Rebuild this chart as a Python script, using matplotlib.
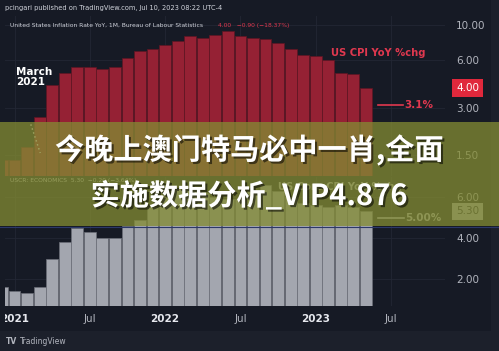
import numpy as np
import matplotlib
matplotlib.use("Agg")
import matplotlib.pyplot as plt
import matplotlib.patheffects as pe
from matplotlib.patches import Rectangle
from matplotlib.lines import Line2D
from matplotlib.transforms import blended_transform_factory

# Dec 2020 .. May 2023, monthly
months = [f"{y}-{m:02d}" for y, m in
          [(2020, 12)] + [(2021, k) for k in range(1, 13)]
          + [(2022, k) for k in range(1, 13)] + [(2023, k) for k in range(1, 6)]]
cpi_yoy = [1.4, 1.4, 1.7, 2.6, 4.2, 5.0, 5.4, 5.4, 5.3, 5.4, 6.2, 6.8, 7.0,
           7.5, 7.9, 8.5, 8.3, 8.6, 9.1, 8.5, 8.3, 8.2, 7.7, 7.1, 6.5,
           6.4, 6.0, 5.0, 4.9, 4.0]
core_yoy = [1.6, 1.4, 1.3, 1.6, 3.0, 3.8, 4.5, 4.3, 4.0, 4.0, 4.6, 4.9, 5.5,
            6.0, 6.4, 6.5, 6.2, 6.0, 5.9, 5.9, 6.3, 6.6, 6.3, 6.0, 5.7,
            5.6, 5.5, 5.6, 5.5, 5.3]
cpi_ticks = [10, 6, 3, 1.5]
core_ticks = [6, 4, 2]
x_tick_pos = [0, 6, 12, 18, 24, 30]
x_tick_labels = ["2021", "Jul", "2022", "Jul", "2023", "Jul"]
cpi_forecast = 3.1
core_target = 5.0

W, H = 499, 351
BG = "#161a25"
GRID = "#232734"
LBL = "#b2b5be"
RED = "#e0384f"

fig = plt.figure(figsize=(W / 100, H / 100), dpi=100, facecolor="#1c202b")


def box(l, t, r, b):
    return [l / W, 1 - b / H, (r - l) / W, (b - t) / H]


fig.patches.append(Rectangle((0, 1 - 331 / H), 491 / W, 331 / H, transform=fig.transFigure,
                             facecolor=BG, edgecolor="none", zorder=-5))

pos = np.arange(len(months)) - 1  # 0 = Jan 2021

ax1 = fig.add_axes(box(5, 16, 445, 176))
ax2 = fig.add_axes(box(5, 177, 445, 306), sharex=ax1)
for ax in (ax1, ax2):
    ax.set_facecolor(BG)
    for s in ax.spines.values():
        s.set_visible(False)
    ax.yaxis.tick_right()
    ax.tick_params(axis="y", length=0, pad=8, labelsize=7.5, labelcolor=LBL)
    ax.grid(True, color=GRID, lw=0.6)
    ax.set_axisbelow(True)

ax1.bar(pos, cpi_yoy, width=0.94, color="#952134", edgecolor="#5e1522", lw=0.5)
ax1.set_yscale("log")
ax1.set_ylim(1.108, 11.4)
ax1.set_yticks(cpi_ticks)
ax1.set_yticklabels([f"{v:.2f}" for v in cpi_ticks])
ax1.yaxis.set_minor_locator(matplotlib.ticker.NullLocator())
for t in ax1.get_yticklabels():
    t.set_ha("left")
ax1.tick_params(axis="x", length=0, labelbottom=False)

ax2.bar(pos, core_yoy, width=0.94, color="#a3a6af", edgecolor="#6b6e78", lw=0.5)
ax2.set_ylim(0.683, 6.976)
ax2.set_yticks(core_ticks)
ax2.set_yticklabels([f"{v:.2f}" for v in core_ticks])
ax2.set_xlim(-0.757, 34.3)
ax2.set_xticks(x_tick_pos)
ax2.set_xticklabels(x_tick_labels)
ax2.tick_params(axis="x", length=0, pad=6, labelsize=7.5, labelcolor=LBL)
for t in ax2.get_xticklabels():
    if t.get_text() != "Jul":
        t.set_fontweight("bold")
        t.set_color("#e6e8ee")

# last value boxes
tr1 = blended_transform_factory(ax1.transAxes, ax1.transData)
tr2 = blended_transform_factory(ax2.transAxes, ax2.transData)
ax1.text(1.025, cpi_yoy[-1], f"{cpi_yoy[-1]:.2f}", transform=tr1, ha="left", va="center",
         fontsize=7.5, color="white", clip_on=False,
         bbox=dict(boxstyle="square,pad=0.35", fc="#e0283c", ec="none"))
ax2.text(1.025, core_yoy[-1], f"{core_yoy[-1]:.2f}", transform=tr2, ha="left", va="center",
         fontsize=7.5, color="#1e222d", clip_on=False,
         bbox=dict(boxstyle="square,pad=0.35", fc="#a3a6af", ec="none"))

# forecast / target lines
ax1.add_line(Line2D([0.848, 0.905], [cpi_forecast] * 2, transform=tr1, color=RED, lw=1.2))
ax1.text(0.907, cpi_forecast, f"{cpi_forecast}%", transform=tr1, ha="left", va="center",
         fontsize=7.5, color=RED, fontweight="bold")
ax2.add_line(Line2D([0.848, 0.907], [core_target] * 2, transform=tr2, color=LBL, lw=1.2))
ax2.text(0.909, core_target, f"{core_target:.2f}%", transform=tr2, ha="left", va="center",
         fontsize=7.5, color=LBL, fontweight="bold")

# pane labels
ax1.text(0.742, 0.77, "US CPI YoY %chg", transform=ax1.transAxes, fontsize=7.2,
         color=RED, fontweight="bold", va="center")
ax2.text(0.62, 0.92, "US Core CPI YoY %chg", transform=ax2.transAxes, fontsize=7.2,
         color=LBL, fontweight="bold", va="center")
ax1.text(0.012, 0.94, "United States Inflation Rate YoY, 1M, Bureau of Labour Statistics",
         transform=ax1.transAxes, fontsize=4.3, color="#d1d4dc", va="center")
ax1.text(0.485, 0.94, "4.00   \u22120.90 (\u221218.37%)", transform=ax1.transAxes,
         fontsize=4.3, color=RED, va="center")
ax2.text(0.012, 0.97, "USCR: ECONOMICS  5.30  \u22120.20 (\u22123.64%)", transform=ax2.transAxes,
         fontsize=4.3, color="#d1d4dc", va="center")

# March 2021 callout
ax1.text(0.025, 0.62, "March\n2021", transform=ax1.transAxes, fontsize=7.5, color="white",
         fontweight="bold", va="center", linespacing=1.0)
ax1.plot([1.3, 2.05], [2.35, 1.55], color="white", lw=1.0, ls=(0, (1, 2)))

fig.text(5 / W, 1 - 8 / H, "pcingari published on TradingView.com, Jul 10, 2023 08:22 UTC-4",
         fontsize=4.8, color="#d1d4dc", va="center")
fig.text(6 / W, 1 - 341 / H, "TV", fontsize=5.5, color=LBL, fontweight="bold", va="center")
fig.text(20 / W, 1 - 341 / H, "TradingView", fontsize=5.5, color=LBL, va="center")

# left edge mask (cuts the 2021 label)
fig.patches.append(Rectangle((0, 1 - 330 / H), 5 / W, 30 / H, transform=fig.transFigure,
                             facecolor=BG, edgecolor="none", zorder=2))

# overlay banner
fig.patches.append(Rectangle((0, 1 - 226 / H), 1, 104 / H, transform=fig.transFigure,
                             facecolor="#838b33", alpha=0.76, edgecolor="none", zorder=3))
fig.add_artist(Line2D([0, 1], [1 - 226.5 / H] * 2, transform=fig.transFigure,
                      color="#2c3868", lw=0.8, zorder=3))
shadow = [pe.SimplePatchShadow(offset=(1.5, -1.5), shadow_rgbFace="black", alpha=0.55), pe.Normal()]
for txt, yy in [("今晚上澳门特马必中一肖,全面", 150), ("实施数据分析_VIP4.876", 196)]:
    t = fig.text(249 / W, 1 - yy / H, txt, fontsize=21, color="white", fontweight="bold",
                 family=["Noto Sans CJK SC", "DejaVu Sans"], ha="center", va="center", zorder=4)
    t.set_path_effects(shadow)

fig.savefig("out.png", dpi=100, facecolor=fig.get_facecolor())
